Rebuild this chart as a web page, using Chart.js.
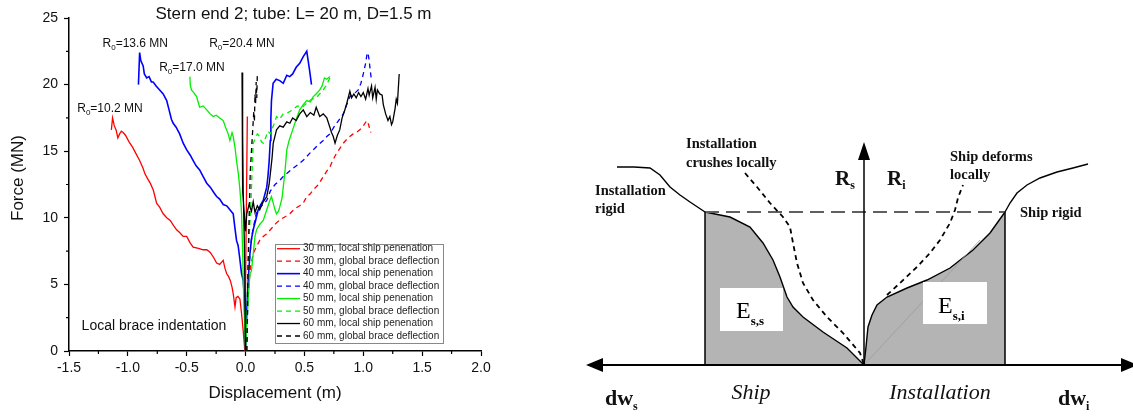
<!DOCTYPE html>
<html>
<head>
<meta charset="utf-8">
<title>Stern end 2 - force vs displacement</title>
<script src="https://cdn.jsdelivr.net/npm/chart.js@4.4.1/dist/chart.umd.min.js"></script>
<style>
  html, body { margin: 0; padding: 0; background: #fff; }
  body { position: relative; width: 1133px; height: 416px; overflow: hidden; }
  canvas { position: absolute; top: 0; }
  #forceChart { left: 0; }
  #energyChart { left: 540px; }
</style>
</head>
<body>
<canvas id="forceChart" width="500" height="416"></canvas>
<canvas id="energyChart" width="593" height="416"></canvas>
<script>
// ===== left panel: [displacement (m), force (MN)] =====
const red30Local = [[-1.14,16.6],[-1.13,17.5],[-1.115,16.9],[-1.10,16.6],[-1.085,16.0],[-1.07,16.3],[-1.055,16.5],[-1.04,16.4],
  [-1.02,16.2],[-0.99,15.7],[-0.96,15.3],[-0.93,14.8],[-0.90,14.3],[-0.87,13.7],[-0.855,13.3],[-0.83,12.9],[-0.81,12.6],
  [-0.785,12.1],[-0.77,11.6],[-0.756,11.1],[-0.73,10.8],[-0.70,10.3],[-0.67,10.0],[-0.64,9.8],[-0.61,9.4],[-0.586,9.1],
  [-0.56,8.9],[-0.53,8.6],[-0.50,8.6],[-0.47,8.1],[-0.445,7.8],[-0.40,7.7],[-0.36,7.6],[-0.33,7.6],[-0.30,7.4],[-0.27,7.0],
  [-0.246,6.6],[-0.22,6.5],[-0.19,6.8],[-0.175,6.2],[-0.16,5.8],[-0.145,5.6],[-0.13,5.3],[-0.115,4.8],[-0.105,4.3],
  [-0.09,3.3],[-0.08,4.0],[-0.065,4.1],[-0.048,3.9],[-0.034,2.8],[-0.02,1.5],[-0.006,0],[0.015,17.6]];
const red30Global = [[0.005,0],[0.02,4.0],[0.04,6.2],[0.065,7.3],[0.09,7.8],[0.12,8.3],[0.15,8.6],[0.18,8.8],[0.22,9.2],
  [0.26,9.6],[0.30,9.9],[0.34,10.1],[0.376,10.3],[0.42,10.7],[0.46,10.9],[0.49,11.1],[0.52,11.6],[0.55,11.8],[0.575,12.1],
  [0.62,12.5],[0.66,13.1],[0.69,13.5],[0.716,13.8],[0.74,14.3],[0.77,14.8],[0.80,15.2],[0.83,15.6],[0.87,16.0],[0.914,16.3],
  [0.94,16.4],[0.97,16.6],[1.0,16.9],[1.03,17.3],[1.045,17.0],[1.056,16.6],[1.065,16.4]];
const blue40Local = [[-0.91,20.0],[-0.90,22.4],[-0.89,21.8],[-0.87,21.4],[-0.86,20.8],[-0.84,20.5],[-0.82,20.6],[-0.80,20.2],
  [-0.785,20.2],[-0.76,19.9],[-0.73,19.6],[-0.70,19.3],[-0.67,18.8],[-0.65,18.1],[-0.63,17.4],[-0.615,17.1],[-0.59,16.8],
  [-0.56,16.3],[-0.53,15.6],[-0.50,15.1],[-0.47,14.7],[-0.445,14.3],[-0.42,13.9],[-0.39,13.6],[-0.36,13.1],[-0.33,12.6],
  [-0.30,12.3],[-0.27,11.9],[-0.246,11.6],[-0.22,11.4],[-0.19,11.0],[-0.16,10.9],[-0.133,10.6],[-0.105,10.3],[-0.09,9.2],
  [-0.077,8.3],[-0.063,7.9],[-0.05,7.0],[-0.034,5.8],[-0.02,5.3],[-0.01,4.0],[0,0],[0.01,3.0],[0.022,5.3],[0.037,7.3],
  [0.05,8.4],[0.065,9.1],[0.085,9.8],[0.107,10.6],[0.13,11.0],[0.15,11.3],[0.18,12.3],[0.19,13.1],[0.20,14.2],[0.21,15.8],
  [0.215,17.5],[0.22,18.8],[0.234,20.1],[0.26,20.4],[0.29,20.3],[0.32,20.1],[0.35,20.7],[0.375,20.6],[0.40,20.8],
  [0.43,21.3],[0.46,21.6],[0.49,22.1],[0.52,22.5],[0.53,21.9],[0.545,21.0],[0.56,20.0]];
const blue40Global = [[0.01,0],[0.02,4.0],[0.03,6.5],[0.045,8.0],[0.06,9.0],[0.09,10.3],[0.12,10.8],[0.15,11.0],[0.18,11.3],
  [0.21,12.0],[0.25,12.5],[0.29,12.8],[0.32,13.1],[0.36,13.4],[0.40,13.7],[0.46,14.1],[0.50,14.4],[0.54,14.8],[0.575,15.1],
  [0.62,15.5],[0.66,15.8],[0.69,16.1],[0.716,16.3],[0.75,16.8],[0.79,17.3],[0.83,17.8],[0.86,18.5],[0.886,19.1],[0.92,19.3],
  [0.957,19.6],[0.98,20.1],[1.0,20.8],[1.02,21.6],[1.03,22.2],[1.04,22.4],[1.05,21.8],[1.06,21.0],[1.07,20.3]];
const green50Local = [[-0.473,20.6],[-0.47,20.0],[-0.46,19.6],[-0.44,19.4],[-0.416,19.1],[-0.40,18.6],[-0.39,18.3],[-0.36,18.4],
  [-0.33,18.1],[-0.30,17.8],[-0.275,17.6],[-0.25,17.7],[-0.22,17.5],[-0.19,17.3],[-0.17,16.8],[-0.148,16.3],[-0.133,15.8],
  [-0.115,16.4],[-0.105,16.1],[-0.09,15.3],[-0.077,14.3],[-0.06,13.2],[-0.05,12.3],[-0.04,11.2],[-0.034,10.3],[-0.025,7.5],
  [-0.02,5.3],[-0.01,2.5],[0,0],[0.008,1.6],[0.02,3.5],[0.037,5.8],[0.05,6.0],[0.065,7.3],[0.08,8.6],[0.093,9.1],[0.12,9.5],
  [0.15,9.8],[0.18,10.6],[0.206,11.3],[0.22,11.6],[0.235,11.1],[0.25,10.6],[0.263,10.3],[0.28,10.5],[0.29,10.8],[0.31,11.5],
  [0.32,12.3],[0.335,13.5],[0.35,15.1],[0.37,15.8],[0.40,16.6],[0.43,17.4],[0.46,18.1],[0.49,18.5],[0.52,18.8],[0.55,18.7],
  [0.575,19.1],[0.60,19.3],[0.63,19.6],[0.65,19.9],[0.67,20.5],[0.69,20.4],[0.716,20.6]];
const green50Global = [[0.005,0],[0.02,6.0],[0.03,8.5],[0.045,11.0],[0.055,13.5],[0.065,15.6],[0.08,15.9],[0.10,16.3],
  [0.12,16.1],[0.135,15.7],[0.15,15.6],[0.17,16.0],[0.19,16.5],[0.21,16.3],[0.24,17.0],[0.263,17.6],[0.29,17.4],[0.32,17.8],
  [0.36,17.9],[0.40,18.1],[0.44,18.4],[0.48,18.3],[0.52,18.6],[0.56,18.9],[0.60,19.0],[0.63,19.3],[0.66,19.6],[0.69,20.0],
  [0.716,20.5]];
const black60Local = [[0,0],[-0.01,8.0],[-0.02,12.0],[-0.03,20.9],[-0.025,12.0],[0.0,9.0],[0.01,10.3],[0.03,11.0],[0.05,10.5],
  [0.065,11.2],[0.08,10.4],[0.10,10.9],[0.12,10.6],[0.15,11.2],[0.18,11.6],[0.20,12.5],[0.21,13.3],[0.225,14.5],[0.235,15.6],
  [0.263,16.6],[0.29,16.9],[0.32,16.8],[0.35,17.2],[0.376,17.1],[0.40,17.5],[0.43,17.3],[0.46,17.8],[0.49,18.1],[0.52,17.6],
  [0.55,17.9],[0.58,17.7],[0.60,18.3],[0.63,17.6],[0.66,17.8],[0.69,17.5],[0.716,16.8],[0.73,16.4],[0.745,16.1],[0.76,15.6],
  [0.78,16.2],[0.80,16.6],[0.82,17.5],[0.84,18.0],[0.86,18.6],[0.886,19.5],[0.90,19.0],[0.92,19.3],[0.94,19.0],[0.96,19.4],
  [0.98,19.1],[1.0,19.4],[1.02,18.9],[1.04,19.7],[1.05,19.2],[1.07,19.9],[1.08,19.0],[1.10,19.8],[1.11,18.9],[1.12,19.6],
  [1.14,19.3],[1.16,19.2],[1.17,18.5],[1.19,17.8],[1.21,17.3],[1.226,17.6],[1.24,17.0],[1.25,17.2],[1.27,18.2],[1.28,18.9],
  [1.29,18.6],[1.305,20.8]];
const black60Global = [[0.01,0],[0.02,6.0],[0.03,10.0],[0.04,13.5],[0.05,15.0],[0.06,16.5],[0.07,18.0],[0.075,17.2],
  [0.08,19.3],[0.085,18.6],[0.09,20.2],[0.095,19.0],[0.10,20.8]];

const legendLabels = [
  '30 mm, local ship penenation', '30 mm, global brace deflection',
  '40 mm, local ship penenation', '40 mm, global brace deflection',
  '50 mm, local ship penenation', '50 mm, global brace deflection',
  '60 mm, local ship penenation', '60 mm, global brace deflection'
];
const dispTicks = [-1.5, -1.0, -0.5, 0.0, 0.5, 1.0, 1.5, 2.0];
const dispMinorTicks = [-1.25, -0.75, -0.25, 0.25, 0.75, 1.25, 1.75];
const forceTicks = [0, 5, 10, 15, 20, 25];
const forceMinorTicks = [2.5, 7.5, 12.5, 17.5, 22.5];
const peakLabels = ['10.2', '13.6', '17.0', '20.4'];

// ===== right panel: schematic, [dw, R] in arbitrary units =====
const installRigidLeft = [[-2.47,1.98],[-2.30,1.98],[-2.14,1.97],[-2.04,1.90],[-1.94,1.78],[-1.84,1.70],[-1.74,1.63],[-1.59,1.53]];
const shipEnergyCurve = [[-1.59,1.53],[-1.34,1.48],[-1.14,1.38],[-1.01,1.22],[-0.91,1.05],[-0.84,0.88],[-0.77,0.68],
  [-0.71,0.58],[-0.61,0.48],[-0.41,0.33],[-0.17,0.17],[0,0]];
const installCrushCurve = [[-1.19,1.92],[-1.07,1.78],[-0.94,1.62],[-0.81,1.48],[-0.74,1.38],[-0.71,1.22],[-0.67,1.02],
  [-0.61,0.82],[-0.51,0.65],[-0.37,0.48],[-0.21,0.32],[-0.04,0.12],[0,0]];
const installEnergyCurve = [[0,0],[0.02,0.18],[0.04,0.38],[0.08,0.50],[0.13,0.60],[0.23,0.68],[0.43,0.77],[0.63,0.85],
  [0.86,0.97],[1.09,1.15],[1.26,1.32],[1.41,1.53]];
const shipRigidRight = [[1.41,1.53],[1.46,1.62],[1.53,1.72],[1.63,1.80],[1.76,1.87],[1.93,1.93],[2.09,1.97],[2.24,2.01]];
const shipDeformCurve = [[0.23,0.70],[0.36,0.82],[0.53,0.98],[0.66,1.12],[0.76,1.25],[0.86,1.42],[0.91,1.55],[0.94,1.67],
  [0.97,1.75],[0.99,1.80]];
const rigidLevel = [[-1.59,1.53],[1.41,1.53]];
const shipLimit = [[-1.59,0],[-1.59,1.53]];
const installLimit = [[1.41,0],[1.41,1.53]];
const secantLine = [[0,0],[1.16,1.25]];
const dwAxis = [[-2.72,0],[2.70,0]];
const rAxis = [[0,0],[0,2.12]];

const sansFont = "'Liberation Sans', Arial, sans-serif";
const serifFont = "'Liberation Serif', 'Times New Roman', serif";

function toPoints(pairs) {
  return pairs.map(p => ({ x: p[0], y: p[1] }));
}

function curve(label, pairs, color, width, dash, order) {
  return {
    label: label, data: toPoints(pairs), showLine: true, pointRadius: 0, fill: false,
    borderColor: color, borderWidth: width, borderDash: dash || [], order: order || 0, tension: 0
  };
}

// ---------- left chart decorations (title, axis titles, labels, legend, minor ticks) ----------
const peakLabelPos = [[-1.43, 17.97], [-1.215, 22.84], [-0.734, 21.04], [-0.309, 22.84]];

const forceDecor = {
  id: 'forceDecor',
  afterDraw(chart) {
    const { ctx, chartArea: area, scales: { x, y } } = chart;
    ctx.save();

    // minor ticks
    ctx.strokeStyle = '#000';
    ctx.lineWidth = 1.2;
    ctx.beginPath();
    dispMinorTicks.forEach(v => {
      const px = x.getPixelForValue(v);
      ctx.moveTo(px, area.bottom); ctx.lineTo(px, area.bottom + 3);
    });
    forceMinorTicks.forEach(v => {
      const py = y.getPixelForValue(v);
      ctx.moveTo(area.left - 3, py); ctx.lineTo(area.left, py);
    });
    ctx.stroke();

    // titles
    ctx.fillStyle = '#111';
    ctx.font = '17px ' + sansFont;
    ctx.textAlign = 'center';
    ctx.textBaseline = 'middle';
    ctx.fillText('Stern end 2; tube: L= 20 m, D=1.5 m', 293.5, 14);
    ctx.fillText('Displacement (m)', (area.left + area.right) / 2, 393);
    ctx.save();
    ctx.translate(18, 178);
    ctx.rotate(-Math.PI / 2);
    ctx.fillText('Force (MN)', 0, 0);
    ctx.restore();

    // R0 labels
    ctx.textAlign = 'left';
    ctx.textBaseline = 'alphabetic';
    peakLabels.forEach((val, i) => {
      let px = x.getPixelForValue(peakLabelPos[i][0]);
      const py = y.getPixelForValue(peakLabelPos[i][1]);
      ctx.font = '12px ' + sansFont;
      ctx.fillText('R', px, py);
      px += ctx.measureText('R').width;
      ctx.font = '8px ' + sansFont;
      ctx.fillText('0', px, py + 3);
      px += ctx.measureText('0').width;
      ctx.font = '12px ' + sansFont;
      ctx.fillText('=' + val + ' MN', px, py);
    });

    ctx.font = '14px ' + sansFont;
    ctx.fillText('Local brace indentation', x.getPixelForValue(-1.393), y.getPixelForValue(1.56));

    // legend box
    const lx = 275, ly = 244, lw = 168, lh = 99;
    ctx.fillStyle = '#fff';
    ctx.fillRect(lx, ly, lw, lh);
    ctx.strokeStyle = '#888';
    ctx.lineWidth = 1;
    ctx.strokeRect(lx + 0.5, ly + 0.5, lw, lh);
    ctx.font = '10px ' + sansFont;
    ctx.textBaseline = 'middle';
    chart.data.datasets.forEach((ds, i) => {
      const rowY = 248.7 + i * 12.47;
      ctx.strokeStyle = ds.borderColor;
      ctx.lineWidth = ds.borderWidth;
      ctx.setLineDash(ds.borderDash.length ? [5, 4] : []);
      ctx.beginPath();
      ctx.moveTo(277, rowY); ctx.lineTo(300, rowY);
      ctx.stroke();
      ctx.setLineDash([]);
      ctx.fillStyle = '#222';
      ctx.fillText(legendLabels[i], 303, rowY);
    });
    ctx.restore();
  }
};

const forceDatasets = [
  curve(legendLabels[0], red30Local, '#ff0000', 1.3, null, 7),
  curve(legendLabels[1], red30Global, '#ff0000', 1.3, [5, 4], 6),
  curve(legendLabels[2], blue40Local, '#0000ff', 1.6, null, 5),
  curve(legendLabels[3], blue40Global, '#0000ff', 1.3, [5, 4], 4),
  curve(legendLabels[4], green50Local, '#00ee00', 1.3, null, 3),
  curve(legendLabels[5], green50Global, '#00ee00', 1.3, [5, 4], 2),
  curve(legendLabels[6], black60Local, '#000000', 1.3, null, 1),
  curve(legendLabels[7], black60Global, '#000000', 1.3, [5, 4], 0)
];

const tickFont = { family: sansFont, size: 14 };

new Chart(document.getElementById('forceChart'), {
  type: 'scatter',
  data: { datasets: forceDatasets },
  options: {
    responsive: false,
    animation: false,
    events: [],
    layout: { padding: { top: 18, right: 19, left: 0, bottom: 0 } },
    plugins: { legend: { display: false }, tooltip: { enabled: false }, title: { display: false } },
    scales: {
      x: {
        type: 'linear', min: -1.5, max: 2.0,
        afterBuildTicks: s => { s.ticks = dispTicks.map(v => ({ value: v })); },
        afterFit: s => { s.height = 65; },
        ticks: { color: '#111', font: tickFont, padding: 4, maxRotation: 0, autoSkip: false,
                 callback: v => Number(v).toFixed(1) },
        grid: { drawOnChartArea: false, drawTicks: true, tickLength: 5, color: '#000', tickWidth: 1.2 },
        border: { color: '#000', width: 1.5 }
      },
      y: {
        type: 'linear', min: 0, max: 25,
        afterBuildTicks: s => { s.ticks = forceTicks.map(v => ({ value: v })); },
        afterFit: s => { s.width = 69; },
        ticks: { color: '#111', font: tickFont, padding: 6, callback: v => String(v) },
        grid: { drawOnChartArea: false, drawTicks: true, tickLength: 5, color: '#000', tickWidth: 1.2 },
        border: { color: '#000', width: 1.5 }
      }
    }
  },
  plugins: [forceDecor]
});

// ---------- right chart: energy dissipation schematic ----------
const schemeNotes = [
  { text: 'Installation', x: -2.69, y: 1.70, kind: 'note' },
  { text: 'rigid', x: -2.69, y: 1.52, kind: 'note' },
  { text: 'Installation', x: -1.78, y: 2.17, kind: 'note' },
  { text: 'crushes locally', x: -1.78, y: 1.98, kind: 'note' },
  { text: 'Ship deforms', x: 0.86, y: 2.04, kind: 'note' },
  { text: 'locally', x: 0.86, y: 1.86, kind: 'note' },
  { text: 'Ship rigid', x: 1.56, y: 1.48, kind: 'note' },
  { text: 'R', sub: 's', x: -0.29, y: 1.80, kind: 'symbol' },
  { text: 'R', sub: 'i', x: 0.23, y: 1.80, kind: 'symbol' },
  { text: 'dw', sub: 's', x: -2.59, y: -0.40, kind: 'axis' },
  { text: 'dw', sub: 'i', x: 1.94, y: -0.40, kind: 'axis' },
  { text: 'Ship', x: -1.13, y: -0.34, kind: 'side' },
  { text: 'Installation', x: 0.76, y: -0.34, kind: 'side' }
];
const energyBoxes = [
  { x0: -1.44, x1: -0.81, y0: 0.34, y1: 0.77, sub: 's,s', tx: -1.28, ty: 0.47 },
  { x0: 0.59, x1: 1.23, y0: 0.41, y1: 0.83, sub: 's,i', tx: 0.74, ty: 0.52 }
];
const noteFonts = {
  note: { main: 'bold 14.5px ' + serifFont },
  symbol: { main: 'bold 21px ' + serifFont, sub: 'bold 12px ' + serifFont, dy: 4 },
  axis: { main: 'bold 22px ' + serifFont, sub: 'bold 12px ' + serifFont, dy: 5 },
  side: { main: 'italic 22px ' + serifFont, center: true }
};

function triangle(ctx, a, b, c) {
  ctx.beginPath();
  ctx.moveTo(a[0], a[1]); ctx.lineTo(b[0], b[1]); ctx.lineTo(c[0], c[1]);
  ctx.closePath();
  ctx.fill();
}

const energyDecor = {
  id: 'energyDecor',
  afterDatasetsDraw(chart) {
    const { ctx, scales: { x, y } } = chart;
    const X = v => x.getPixelForValue(v);
    const Y = v => y.getPixelForValue(v);
    ctx.save();
    ctx.fillStyle = '#000';

    // arrow heads
    const y0 = Y(0);
    triangle(ctx, [X(-2.78), y0], [X(-2.78) + 17, y0 - 7], [X(-2.78) + 17, y0 + 7]);
    triangle(ctx, [X(2.74), y0], [X(2.74) - 17, y0 - 7], [X(2.74) - 17, y0 + 7]);
    triangle(ctx, [X(0), Y(2.23)], [X(0) - 6, Y(2.23) + 18], [X(0) + 6, Y(2.23) + 18]);

    // energy boxes
    energyBoxes.forEach(b => {
      ctx.fillStyle = '#fff';
      ctx.fillRect(X(b.x0), Y(b.y1), X(b.x1) - X(b.x0), Y(b.y0) - Y(b.y1));
      ctx.fillStyle = '#000';
      ctx.textAlign = 'left';
      ctx.textBaseline = 'alphabetic';
      ctx.font = '24px ' + serifFont;
      const tx = X(b.tx), ty = Y(b.ty);
      ctx.fillText('E', tx, ty);
      const w = ctx.measureText('E').width;
      ctx.font = 'bold 13px ' + serifFont;
      ctx.fillText(b.sub, tx + w, ty + 7);
    });

    // text notes
    ctx.fillStyle = '#111';
    ctx.textBaseline = 'alphabetic';
    schemeNotes.forEach(n => {
      const f = noteFonts[n.kind];
      ctx.font = f.main;
      let px = X(n.x);
      const py = Y(n.y);
      if (f.center) {
        ctx.textAlign = 'center';
        ctx.fillText(n.text, px, py);
        return;
      }
      ctx.textAlign = 'left';
      ctx.fillText(n.text, px, py);
      if (n.sub) {
        px += ctx.measureText(n.text).width;
        ctx.font = f.sub;
        ctx.fillText(n.sub, px, py + f.dy);
      }
    });
    ctx.restore();
  }
};

const fillGray = '#b4b4b4';
const energyDatasets = [
  Object.assign(curve('ship energy', shipEnergyCurve, '#000', 1.4, null, 10), { fill: 'origin', backgroundColor: fillGray }),
  Object.assign(curve('installation energy', installEnergyCurve, '#000', 1.4, null, 10), { fill: 'origin', backgroundColor: fillGray }),
  curve('secant', secantLine, '#9a9a9a', 0.8, null, 9),
  curve('installation rigid', installRigidLeft, '#000', 1.4, null, 3),
  curve('ship rigid', shipRigidRight, '#000', 1.4, null, 3),
  curve('installation crushes locally', installCrushCurve, '#000', 1.8, [5, 4], 3),
  curve('ship deforms locally', shipDeformCurve, '#000', 1.8, [5, 4], 3),
  curve('rigid level', rigidLevel, '#606060', 2, [14, 7], 4),
  curve('ship limit', shipLimit, '#000', 1.5, null, 2),
  curve('installation limit', installLimit, '#000', 1.5, null, 2),
  curve('dw axis', dwAxis, '#000', 2.2, null, 1),
  curve('R axis', rAxis, '#000', 1.5, null, 1)
];

new Chart(document.getElementById('energyChart'), {
  type: 'scatter',
  data: { datasets: energyDatasets },
  options: {
    responsive: false,
    animation: false,
    events: [],
    layout: { padding: 0 },
    plugins: { legend: { display: false }, tooltip: { enabled: false }, title: { display: false } },
    scales: {
      x: { type: 'linear', min: -3.24, max: 2.69, display: false },
      y: { type: 'linear', min: -0.51, max: 3.65, display: false }
    }
  },
  plugins: [energyDecor]
});
</script>
</body>
</html>
